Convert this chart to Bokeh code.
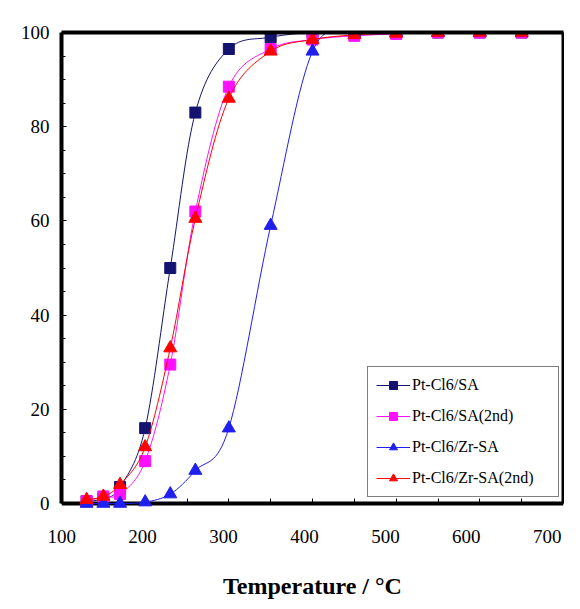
import numpy as np
from bokeh.plotting import figure
from bokeh.models import FixedTicker, Legend, LegendItem, Range1d, LinearAxis
from bokeh.embed import file_html
from bokeh.resources import INLINE

# ---- data ----
temperature = [130, 150, 170, 200, 230, 260, 300, 350, 400, 450, 500, 550, 600, 650]
pt_sa = [0.5, 1.0, 3.5, 16, 50, 83, 96.5, 99, 100, 100, 100, 100, 100, 100]
pt_sa_2nd = [0.5, 1.5, 2.0, 9, 29.5, 62, 88.5, 96.5, 98.5, 99.3, 99.7, 100, 100, 100]
pt_zr_sa = [0, 0, 0, 0.3, 2, 7, 16, 59, 96, 100, 100, 100, 100, 100]
pt_zr_sa_2nd = [0.8, 1.5, 4, 12, 33, 60.5, 86, 96, 98.5, 99.5, 99.8, 100, 100, 100]

series_names = ["Pt-Cl6/SA", "Pt-Cl6/SA(2nd)", "Pt-Cl6/Zr-SA", "Pt-Cl6/Zr-SA(2nd)"]
x_ticks = [100, 200, 300, 400, 500, 600, 700]
x_minor_ticks = [150, 250, 350, 450, 550, 650]
y_ticks = [0, 20, 40, 60, 80, 100]
y_minor_ticks = [5, 10, 15, 25, 30, 35, 45, 50, 55, 65, 70, 75, 85, 90, 95]
x_title = "Temperature / \u00b0C"

FONT = "'Liberation Serif'"
Y_MIN, Y_MAX = 0, 100
Y_PAD = 2.12   # room below the x axis so markers at 0 are not cut off


def smooth_segments(xs, ys):
    """Catmull-Rom control points (Excel-like smoothed line) from the data."""
    x = np.asarray(xs, float)
    y = np.asarray(ys, float)
    n = len(x)
    xp = np.concatenate([[x[0]], x, [x[-1]]])
    yp = np.concatenate([[y[0]], y, [y[-1]]])
    x0, x1 = xp[1:n], xp[2:n + 1]
    y0, y1 = yp[1:n], yp[2:n + 1]
    cx0 = x0 + (xp[2:n + 1] - xp[0:n - 1]) / 6.0
    cy0 = y0 + (yp[2:n + 1] - yp[0:n - 1]) / 6.0
    cx1 = x1 - (xp[3:n + 2] - xp[1:n]) / 6.0
    cy1 = y1 - (yp[3:n + 2] - yp[1:n]) / 6.0
    return dict(x0=x0, y0=y0, x1=x1, y1=y1, cx0=cx0, cy0=cy0, cx1=cx1, cy1=cy1)


p = figure(frame_width=502, frame_height=481, output_backend="svg", toolbar_location=None,
           x_range=Range1d(100, 700), y_range=Range1d(Y_MIN - Y_PAD, Y_MAX),
           min_border_left=61, min_border_right=1, min_border_top=32, min_border_bottom=50)

p.background_fill_color = "white"
p.border_fill_color = "white"
p.outline_line_color = None
p.xgrid.visible = False
p.ygrid.visible = False

p.xaxis.ticker = FixedTicker(ticks=x_ticks, minor_ticks=x_minor_ticks)
p.yaxis.ticker = FixedTicker(ticks=y_ticks, minor_ticks=y_minor_ticks)

for ax in (p.xaxis[0], p.yaxis[0]):
    ax.axis_line_color = "black"
    ax.axis_line_width = 4
    ax.major_tick_in = 5
    ax.major_tick_out = 0
    ax.minor_tick_in = 5
    ax.minor_tick_out = 0
    ax.major_tick_line_color = "black"
    ax.minor_tick_line_color = "black"
    ax.major_tick_line_width = 1
    ax.minor_tick_line_width = 1

p.yaxis.bounds = (Y_MIN, Y_MAX)
p.yaxis.minor_tick_in = 4
p.yaxis.major_label_text_font = FONT
p.yaxis.major_label_text_font_size = "19px"
p.yaxis.major_label_text_color = "black"
p.yaxis.major_label_standoff = 12

# bottom frame axis sits at y = 0; its numbers are drawn by a label-only axis below
p.xaxis.fixed_location = Y_MIN
p.xaxis.level = "underlay"
p.xaxis.major_label_text_color = None
p.xaxis.major_label_text_font_size = "1px"
p.xaxis.major_label_standoff = 0

label_axis = LinearAxis(x_range_name="labels",
                        ticker=FixedTicker(ticks=x_ticks, minor_ticks=[]),
                        axis_line_color=None, major_tick_line_color=None,
                        minor_tick_line_color=None,
                        major_label_text_font=FONT, major_label_text_font_size="19px",
                        major_label_text_color="black", major_label_standoff=10,
                        axis_label=x_title, axis_label_text_font=FONT,
                        axis_label_text_font_size="24px", axis_label_text_font_style="bold",
                        axis_label_text_color="black", axis_label_standoff=27)
p.extra_x_ranges = {"labels": Range1d(99.8, 720)}
p.add_layout(label_axis, "below")

# top and right edges of the frame box
top_edge = LinearAxis(ticker=FixedTicker(ticks=[]), axis_line_color="black", axis_line_width=4,
                      major_tick_line_color=None, minor_tick_line_color=None,
                      major_label_text_color=None, major_label_text_font_size="1px",
                      major_label_standoff=0)
right_edge = LinearAxis(ticker=FixedTicker(ticks=[]), bounds=(Y_MIN, Y_MAX),
                        axis_line_color="black", axis_line_width=4,
                        major_tick_line_color=None, minor_tick_line_color=None,
                        major_label_text_color=None, major_label_text_font_size="1px",
                        major_label_standoff=0)
p.add_layout(top_edge, "above")
p.add_layout(right_edge, "right")

series = [
    (pt_sa, "#141470", "square", 11),
    (pt_sa_2nd, "#FF10FF", "square", 11),
    (pt_zr_sa, "#1F1FF0", "triangle", 13),
    (pt_zr_sa_2nd, "#FF0000", "triangle", 13),
]

items = []
for name, (vals, color, marker, size) in zip(series_names, series):
    seg = smooth_segments(temperature, vals)
    r_line = p.bezier(x0="x0", y0="y0", x1="x1", y1="y1", cx0="cx0", cy0="cy0",
                      cx1="cx1", cy1="cy1", source=seg, line_color=color, line_width=1)
    r_pts = p.scatter(temperature, vals, marker=marker, size=size,
                      fill_color=color, line_color=color)
    items.append(LegendItem(label=name, renderers=[r_line, r_pts]))

legend = Legend(items=items, location=(306, 16),
                padding=8, spacing=11, label_height=20, glyph_height=20, glyph_width=34,
                label_width=138, label_standoff=2,
                label_text_font=FONT, label_text_font_size="16px", label_text_color="black",
                border_line_color="black", border_line_width=1,
                background_fill_color="white", background_fill_alpha=1.0)
p.add_layout(legend)

open("out.html", "w").write(file_html(p, INLINE))
